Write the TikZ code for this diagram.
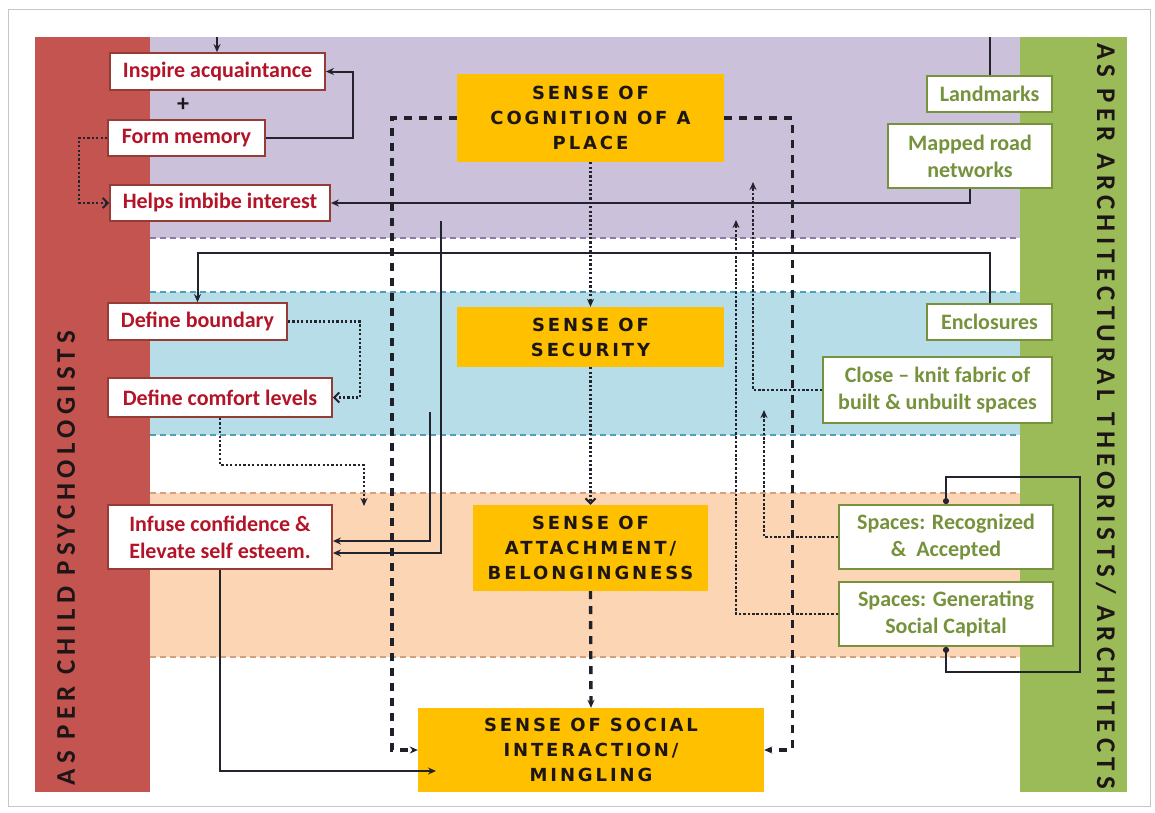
\documentclass[tikz,border=0pt]{standalone}
\usepackage{fontspec}
\setmainfont{Carlito}
\newfontfamily\headfont[LetterSpace=16]{DejaVu Sans}
\newfontfamily\sidefont[LetterSpace=19.5]{Carlito}
\usetikzlibrary{arrows.meta,calc}
\definecolor{redband}{RGB}{196,84,80}
\definecolor{greenband}{RGB}{155,187,89}
\definecolor{purplefill}{RGB}{204,193,218}
\definecolor{bluefill}{RGB}{183,222,232}
\definecolor{orangefill}{RGB}{252,213,181}
\definecolor{senseyellow}{RGB}{255,192,0}
\definecolor{redtext}{RGB}{180,20,40}
\definecolor{redborder}{RGB}{150,60,55}
\definecolor{greentext}{RGB}{118,146,60}
\definecolor{greenborder}{RGB}{118,146,60}
\definecolor{linecol}{RGB}{35,35,45}
\definecolor{headtext}{RGB}{30,22,22}
\definecolor{purpdash}{RGB}{140,122,170}
\definecolor{bluedash}{RGB}{80,160,180}
\definecolor{orangedash}{RGB}{215,160,125}
\begin{document}
\begin{tikzpicture}[x=1pt,y=-1pt,
  redbox/.style={draw=redborder, line width=1.8pt, fill=white, text=redtext,
    font=\fontsize{22}{27}\selectfont\bfseries, inner sep=0pt, align=center},
  greenbox/.style={draw=greenborder, line width=1.8pt, fill=white, text=greentext,
    font=\fontsize{22}{27}\selectfont\bfseries, inner sep=0pt, align=center},
  sensebox/.style={fill=senseyellow, text=headtext,
    font=\headfont\fontsize{18}{25}\selectfont\bfseries, inner sep=0pt, align=center},
  sidetxt/.style={text=headtext, font=\sidefont\fontsize{27}{30}\selectfont\bfseries, inner sep=0pt},
  conn/.style={draw=linecol, line width=2pt},
  arr/.style={-{Stealth[length=8pt,width=7pt]}},
  openarr/.style={-{Straight Barb[length=5pt,width=10pt,line width=2pt]}},
  dotc/.style={draw=linecol, line width=2.3pt, dash pattern=on 2.2pt off 2.2pt},
  fdot/.style={draw=linecol, line width=1.7pt, dash pattern=on 2.6pt off 1.8pt},
  bigdash/.style={draw=linecol!90!black, line width=3.4pt, dash pattern=on 8pt off 7pt},
  banddash/.style={line width=1.6pt, dash pattern=on 6pt off 4pt}
]
\useasboundingbox (0,0) rectangle (1155,812);
\fill[white] (0,0) rectangle (1155,812);
\draw[gray!45, line width=1pt] (8,9) rectangle (1150,806);

% bands
\fill[purplefill] (150,37) rectangle (1020,238);
\fill[bluefill] (150,292) rectangle (1020,435);
\fill[orangefill] (150,493) rectangle (1020,657);
\fill[redband] (35,37) rectangle (150,792);
\fill[greenband] (1020,37) rectangle (1127,792);
\draw[banddash, draw=purpdash] (150,238) -- (1020,238);
\draw[banddash, draw=bluedash] (150,292) -- (1020,292);
\draw[banddash, draw=bluedash] (150,435) -- (1020,435);
\draw[banddash, draw=orangedash] (150,493) -- (1020,493);
\draw[banddash, draw=orangedash] (150,657) -- (1020,657);

% side titles
\node[sidetxt, rotate=90] (lt) at (66,558) {AS PER CHILD PSYCHOLOGISTS};
\node[sidetxt, rotate=-90] (rt) at (1106,416) {AS PER ARCHITECTURAL THEORISTS/ ARCHITECTS};

% red boxes
\node[redbox, minimum width=215, minimum height=37] (ia) at (217.5,71.5) {Inspire acquaintance};
\node[font=\fontsize{24}{24}\selectfont\bfseries, text=headtext, inner sep=0pt] (plus) at (183,105) {+};
\node[redbox, minimum width=157, minimum height=36] (fm) at (186.5,138) {Form memory};
\node[redbox, minimum width=220, minimum height=36] (hi) at (220,203) {Helps imbibe interest};
\node[redbox, minimum width=179, minimum height=37] (db) at (197.5,321.5) {Define boundary};
\node[redbox, minimum width=224, minimum height=39] (dc) at (220,397.5) {Define comfort levels};
\node[redbox, minimum width=224, minimum height=64] (ic) at (220,537) {Infuse confidence \&\\Elevate self esteem.};

% sense boxes
\node[sensebox, minimum width=267, minimum height=88] (cog) at (590.5,118) {SENSE OF\\COGNITION OF A\\PLACE};
\node[sensebox, minimum width=267, minimum height=60] (sec) at (590.5,337) {SENSE OF\\SECURITY};
\node[sensebox, minimum width=235, minimum height=86] (att) at (590.5,548) {SENSE OF\\ATTACHMENT/\\BELONGINGNESS};
\node[sensebox, minimum width=346, minimum height=84] (soc) at (591,750) {SENSE OF SOCIAL\\INTERACTION/\\MINGLING};

% green boxes
\node[greenbox, minimum width=125, minimum height=36] (lm) at (989.5,94) {Landmarks};
\node[greenbox, minimum width=164, minimum height=64] (mr) at (970,156) {Mapped road\\networks};
\node[greenbox, minimum width=125, minimum height=36] (en) at (989.5,322) {Enclosures};
\node[greenbox, minimum width=229, minimum height=66] (ck) at (937.5,390) {Close -- knit fabric of\\built \& unbuilt spaces};
\node[greenbox, minimum width=214, minimum height=64] (sr) at (946,537) {Spaces: Recognized\\\&\ \ Accepted};
\node[greenbox, minimum width=214, minimum height=64] (sg) at (946,614) {Spaces: Generating\\Social Capital};

% free ends
\coordinate (topA) at (217,37);
\coordinate (topL) at (990,37);
\coordinate (dcend) at (364,506);
\coordinate (s1) at (430,412);
\coordinate (s2) at (441,221);
\coordinate (icend) at (436,771);
\coordinate (ckend) at (753,182);
\coordinate (sgend) at (736,220);
\coordinate (srend) at (764,410);
\coordinate (lpR) at (1080,672);

% connectors (left)
\draw[conn,arr] (topA) -- (topA |- ia.north);
\draw[conn] (lm.north) -- (lm.north |- topL);
\draw[conn,arr] (fm.east) -- ++(87,0) |- (ia.east);
\draw[dotc,openarr] (fm.west) -- ++(-28,0) |- (hi.west);
\draw[conn,arr] (mr.south) |- (hi.east);
\draw[conn,arr] (en.north) -- ++(0,-50) -| (db.north);
\draw[dotc,openarr] (db.east) -- ++(72,0) |- (dc.east);
\draw[dotc,arr] (dc.south) -- ++(0,47) -| (dcend);
\draw[conn,arr] (s1) |- ($(ic.east)+(0,4)$);
\draw[conn,arr] (s2) |- ($(ic.east)+(0,16)$);
\draw[conn,arr] (ic.south) |- (icend);

% centre chain
\draw[dotc,arr] (cog.south) -- (sec.north);
\draw[dotc,openarr] (sec.south) -- (att.north);
\draw[bigdash,arr] (att.south) -- (soc.north);
\draw[bigdash,arr] (cog.west) -- ++(-65,0) |- (soc.west);
\draw[bigdash,arr] (cog.east) -- ++(68,0) |- (soc.east);

% right side
\draw[fdot,arr] (ck.west) -| (ckend);
\draw[fdot,arr] (sg.west) -| (sgend);
\draw[fdot,arr] (sr.west) -| (srend);
\draw[conn,{Circle[length=6pt]}-{Circle[length=6pt]}] (sr.north) -- ++(0,-27) -| (lpR) -| (sg.south);
\end{tikzpicture}
\end{document}
